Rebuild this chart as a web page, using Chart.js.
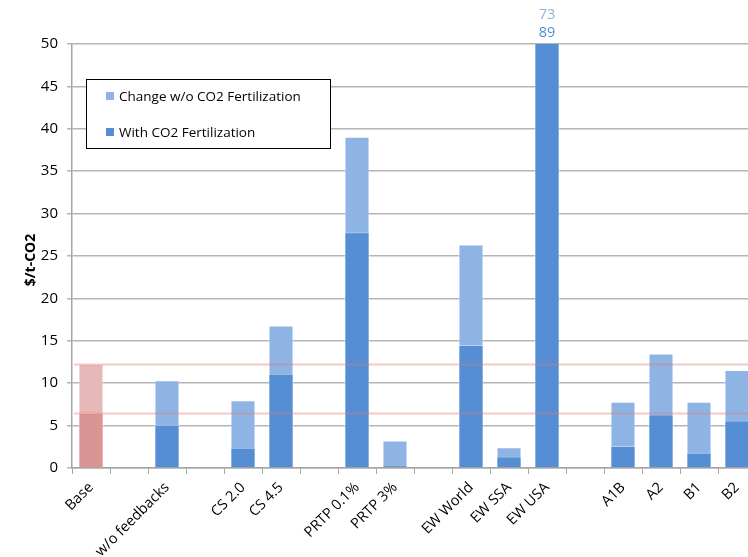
<!DOCTYPE html>
<html>
<head>
<meta charset="utf-8">
<script src="https://cdn.jsdelivr.net/npm/chart.js@4.4.1/dist/chart.umd.min.js"></script>
<style>
  html, body { margin: 0; padding: 0; background: #fff; overflow: hidden; }
  #wrap { width: 756px; height: 557px; }
</style>
</head>
<body>
<div id="wrap"><canvas id="chart" width="756" height="557"></canvas></div>
<script>
// Données ($/t-CO2)
const categories = ['Base', '', 'w/o feedbacks', '', 'CS 2.0', 'CS 4.5', '', 'PRTP 0.1%', 'PRTP 3%', '',
    'EW World', 'EW SSA', 'EW USA', '', 'A1B', 'A2', 'B1', 'B2'];
const withFert = [6.5, null, 5.1, null, 2.4, 11.1, null, 27.8, 0.3, null, 14.5, 1.35, 89, null, 2.6, 6.3, 1.8, 5.6];
const withoutFert = [12.25, null, 10.35, null, 8.0, 16.8, null, 39.05, 3.25, null, 26.35, 2.45, 73, null, 7.8, 13.5, 7.8, 11.55];
const baseLines = [12.25, 6.5];
const yTicks = { min: 0, max: 50, step: 5 };
const seriesNames = ['Change w/o CO2 Fertilization', 'With CO2 Fertilization'];

const FONT = "'Open Sans', 'Liberation Sans', sans-serif";
const LIGHT = '#8eb4e3', DARK = '#558ed5';
const BASE_LIGHT = '#e6b9b8', BASE_DARK = '#d99594';

const colorsFor = (normal, base) => categories.map(c => c === 'Base' ? base : normal);

// Lignes de référence, étiquettes hors échelle, légende et titre d'axe
const extras = {
    id: 'extras',
    afterDatasetsDraw(chart) {
        const { ctx, chartArea, scales: { y } } = chart;
        ctx.save();
        ctx.strokeStyle = 'rgba(225,120,120,0.4)';
        ctx.lineWidth = 2;
        baseLines.forEach(v => {
            const py = Math.round(y.getPixelForValue(v)) + 0.5;
            ctx.beginPath();
            ctx.moveTo(chartArea.left + 2, py);
            ctx.lineTo(chartArea.right, py);
            ctx.stroke();
        });
        ctx.restore();
    },
    afterDraw(chart) {
        const { ctx, chartArea, scales: { x } } = chart;
        ctx.save();
        // valeurs au-dessus du maximum
        ctx.font = `14.5px ${FONT}`;
        ctx.textAlign = 'center';
        ctx.textBaseline = 'middle';
        categories.forEach((c, i) => {
            if (withFert[i] !== null && withFert[i] > yTicks.max) {
                const px = x.getPixelForValue(i);
                ctx.fillStyle = DARK;
                ctx.fillText(String(withFert[i]), px, chartArea.top - 11);
                ctx.fillStyle = LIGHT;
                ctx.fillText(String(withoutFert[i]), px, chartArea.top - 29);
            }
        });

        // légende encadrée
        ctx.fillStyle = '#fff';
        ctx.fillRect(86, 79, 245, 69);
        ctx.strokeStyle = '#000';
        ctx.lineWidth = 1;
        ctx.strokeRect(86.5, 79.5, 244, 69);
        ctx.font = `13.5px ${FONT}`;
        ctx.textAlign = 'left';
        [[LIGHT, 96], [DARK, 132]].forEach(([col, cy], k) => {
            ctx.fillStyle = col;
            ctx.fillRect(106, cy - 4, 8, 8);
            ctx.fillStyle = '#000';
            ctx.fillText(seriesNames[k], 119, cy + 1);
        });

        // titre de l'axe Y
        ctx.translate(31, 260);
        ctx.rotate(-Math.PI / 2);
        ctx.font = `bold 14px ${FONT}`;
        ctx.textAlign = 'center';
        ctx.fillStyle = '#000';
        ctx.fillText('$/t-CO2', 0, 0);
        ctx.restore();
    }
};

new Chart(document.getElementById('chart'), {
    type: 'bar',
    data: {
        labels: categories,
        datasets: [
            {
                label: seriesNames[0],
                data: withoutFert,
                backgroundColor: colorsFor(LIGHT, BASE_LIGHT),
                borderColor: 'rgba(255,255,255,0.45)',
                borderWidth: 1,
                order: 2,
                barPercentage: 0.66,
                categoryPercentage: 1
            },
            {
                label: seriesNames[1],
                data: withFert,
                backgroundColor: colorsFor(DARK, BASE_DARK),
                borderColor: 'rgba(255,255,255,0.35)',
                borderWidth: 1,
                order: 1,
                barPercentage: 0.66,
                categoryPercentage: 1
            }
        ]
    },
    options: {
        responsive: false,
        animation: false,
        layout: { padding: { top: 44, left: 0, right: 0, bottom: 0 } },
        plugins: {
            legend: { display: false },
            tooltip: { enabled: false }
        },
        scales: {
            x: {
                stacked: true,
                afterFit: s => { s.height = 89; },
                grid: {
                    drawOnChartArea: false,
                    drawTicks: true,
                    tickLength: 6,
                    color: '#a6a6a6'
                },
                border: { color: '#a6a6a6', width: 1.5 },
                ticks: {
                    autoSkip: false,
                    maxRotation: 45,
                    minRotation: 45,
                    padding: 5,
                    color: '#000',
                    font: { family: FONT, size: 14.5 }
                }
            },
            y: {
                stacked: false,
                min: yTicks.min,
                max: yTicks.max,
                afterFit: s => { s.width = 72; },
                grid: {
                    color: '#b5b5b5',
                    lineWidth: 1.5,
                    tickLength: 5
                },
                border: { color: '#a6a6a6', width: 1.5 },
                ticks: {
                    stepSize: yTicks.step,
                    padding: 9,
                    color: '#000',
                    font: { family: FONT, size: 15 }
                }
            }
        }
    },
    plugins: [extras]
});
</script>
</body>
</html>
